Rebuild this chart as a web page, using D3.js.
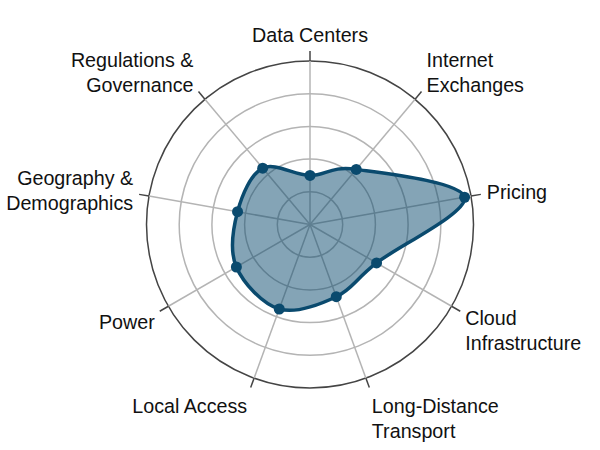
<!DOCTYPE html>
<html>
<head>
<meta charset="utf-8">
<script src="https://cdn.jsdelivr.net/npm/d3@7"></script>
<style>
  body { margin: 0; background: #fff; }
  text { font-family: "Liberation Sans", Arial, sans-serif; font-size: 19.7px; fill: #111; }
</style>
</head>
<body>
<svg id="chart" width="600" height="450"></svg>
<script>
// axes, clockwise from the top
var axes = ["Data Centers", "Internet\nExchanges", "Pricing", "Cloud\nInfrastructure",
            "Long-Distance\nTransport", "Local Access", "Power",
            "Geography &\nDemographics", "Regulations &\nGovernance"];
var values = [30, 44, 96, 47, 47, 55, 52, 45, 45];
var levels = [20, 40, 60, 80, 100];

var cx = 310, cy = 224.5, R = 163.5, tickLen = 10, lineH = 25;
var color = "#0a4a6e";

var svg = d3.select("#chart");
var g = svg.append("g").attr("transform", "translate(" + cx + "," + cy + ")");

var r = d3.scaleLinear().domain([0, 100]).range([0, R]);
var ang = d3.scaleLinear().domain([0, axes.length]).range([0, 2 * Math.PI]);

function px(a, rr) { return rr * Math.sin(a); }
function py(a, rr) { return -rr * Math.cos(a); }

// grid rings
g.selectAll("circle.ring")
  .data(levels)
  .join("circle")
  .attr("class", "ring")
  .attr("r", d => r(d))
  .attr("fill", "none")
  .attr("stroke", (d, i) => i == levels.length - 1 ? "#444" : "#b4b4b4")
  .attr("stroke-width", 1.5);

// spokes (gray inside, dark tick outside)
g.selectAll("line.spoke")
  .data(axes)
  .join("line")
  .attr("class", "spoke")
  .attr("x1", 0).attr("y1", 0)
  .attr("x2", (d, i) => px(ang(i), R))
  .attr("y2", (d, i) => py(ang(i), R))
  .attr("stroke", "#b4b4b4")
  .attr("stroke-width", 1.5);

g.selectAll("line.tick")
  .data(axes)
  .join("line")
  .attr("class", "tick")
  .attr("x1", (d, i) => px(ang(i), R))
  .attr("y1", (d, i) => py(ang(i), R))
  .attr("x2", (d, i) => px(ang(i), R + tickLen))
  .attr("y2", (d, i) => py(ang(i), R + tickLen))
  .attr("stroke", "#444")
  .attr("stroke-width", 1.5);

// data shape
var pts = values.map((v, i) => [px(ang(i), r(v)), py(ang(i), r(v))]);
var line = d3.line().curve(d3.curveCardinalClosed);

g.append("path")
  .attr("d", line(pts))
  .attr("fill", color)
  .attr("fill-opacity", 0.5)
  .attr("stroke", color)
  .attr("stroke-width", 3.5);

g.selectAll("circle.pt")
  .data(pts)
  .join("circle")
  .attr("class", "pt")
  .attr("cx", d => d[0])
  .attr("cy", d => d[1])
  .attr("r", 5.5)
  .attr("fill", color);

// labels
axes.forEach(function(name, i) {
  var a = ang(i);
  var deg = Math.round(a * 180 / Math.PI);
  var tx = px(a, R + tickLen), ty = py(a, R + tickLen);
  var lines = name.split("\n");
  var n = lines.length;
  var anchor = "middle", x = tx, y0;
  if (deg == 0) {
    y0 = ty - 9 - (n - 1) * lineH;
  } else {
    var right = deg < 180;
    anchor = right ? "start" : "end";
    var d = Math.abs(deg - 180);
    if (d >= 140) { // upper diagonal
      x = tx + (right ? 5 : -5);
      y0 = ty - (n - 1) * lineH;
    } else if (d >= 90) { // near horizontal
      x = tx + (right ? 6 : -6);
      y0 = ty - (n - 1) * lineH / 2 + (right ? 5 : 3);
    } else if (d >= 50) { // lower diagonal
      x = tx + (right ? 5 : -5);
      y0 = ty + (right ? 14 : 18);
    } else { // near bottom
      x = tx + (right ? 2.5 : -3.5);
      y0 = ty + 25;
    }
  }
  var t = g.append("text").attr("text-anchor", anchor);
  lines.forEach(function(s, k) {
    t.append("tspan").attr("x", x).attr("y", y0 + k * lineH).text(s);
  });
});
</script>
</body>
</html>
